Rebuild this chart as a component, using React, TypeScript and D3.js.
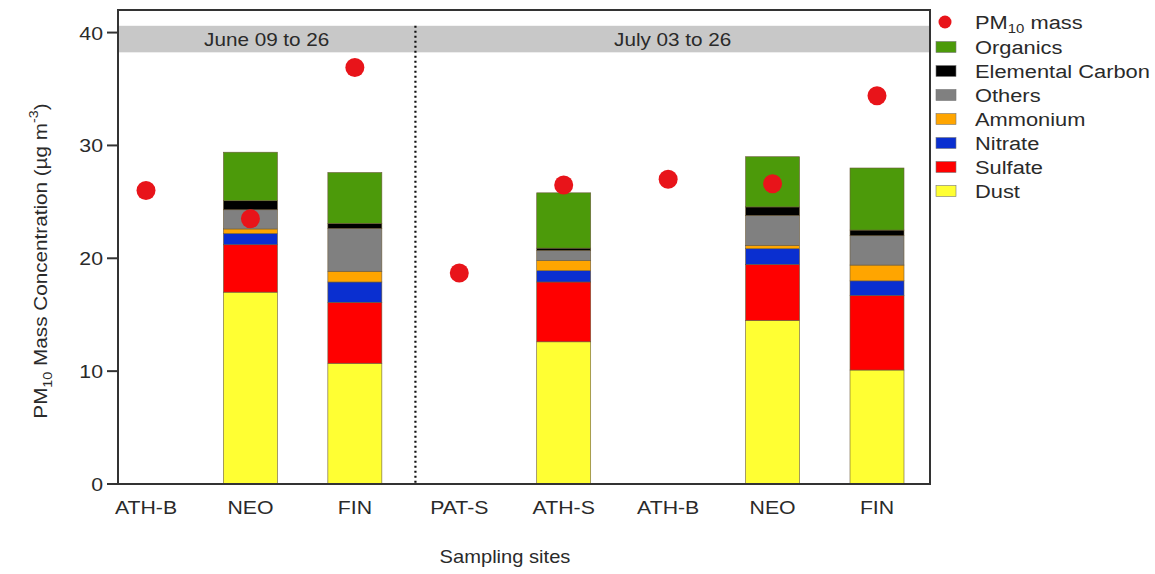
import React from "react";
import * as d3 from "d3";

// Sampling sites (two campaigns), PM10 mass and chemical composition (µg m-3)
const sites = ["ATH-B", "NEO", "FIN", "PAT-S", "ATH-S", "ATH-B", "NEO", "FIN"];
const pm10 = [26.0, 23.5, 36.9, 18.7, 26.5, 27.0, 26.6, 34.4];
const dust = [0, 17.0, 10.7, 0, 12.6, 0, 14.5, 10.1];
const sulfate = [0, 4.2, 5.4, 0, 5.3, 0, 4.95, 6.6];
const nitrate = [0, 1.0, 1.8, 0, 1.0, 0, 1.4, 1.3];
const ammonium = [0, 0.4, 0.95, 0, 0.9, 0, 0.3, 1.4];
const others = [0, 1.7, 3.8, 0, 0.9, 0, 2.65, 2.6];
const elementalCarbon = [0, 0.8, 0.45, 0, 0.2, 0, 0.75, 0.5];
const organics = [0, 4.3, 4.5, 0, 4.9, 0, 4.45, 5.5];

const componentNames = ["Dust", "Sulfate", "Nitrate", "Ammonium", "Others", "Elemental Carbon", "Organics"];
const componentValues = [dust, sulfate, nitrate, ammonium, others, elementalCarbon, organics];
const componentColors = ["#ffff33", "#ff0000", "#0a2fd0", "#ffa500", "#808080", "#000000", "#4c9a0a"];

const periods = ["June 09 to 26", "July 03 to 26"];
const periodSplit = 3; // first index of the second campaign
const yTicks = [0, 10, 20, 30, 40];

const W = 1155;
const H = 574;
const plot = { left: 118, right: 930, top: 10, bottom: 484 };
const font = "Liberation Sans, Arial, sans-serif";
const textColor = "#2a2a2a";
const SX = 1.15; // slightly widened lettering

type TxtProps = {
  x: number;
  y: number;
  size: number;
  anchor?: "start" | "middle" | "end";
  rotate?: number;
  children: React.ReactNode;
};

function Txt({ x, y, size, anchor = "start", rotate = 0, children }: TxtProps) {
  return (
    <text
      transform={`translate(${x},${y}) rotate(${rotate}) scale(${SX},1)`}
      fontSize={size}
      textAnchor={anchor}
      fill={textColor}
    >
      {children}
    </text>
  );
}

export default function App() {
  const idx = sites.map((_, i) => i);
  const x = d3.scalePoint<number>().domain(idx).range([146, 877]);
  const step = x.step();
  const y = d3.scaleLinear().domain([0, 42]).range([plot.bottom, plot.top]);
  const barW = 54;

  const rows = idx.map((i) => {
    const r: Record<string, number> = { i };
    componentNames.forEach((n, k) => (r[n] = componentValues[k][i]));
    return r;
  });
  const series = d3.stack<Record<string, number>>().keys(componentNames)(rows);

  const divider = (x(periodSplit - 1) as number) + step * 0.58;
  const bandTop = y(40.6);
  const bandBottom = y(38.25);

  const legendItems = ["Organics", "Elemental Carbon", "Others", "Ammonium", "Nitrate", "Sulfate", "Dust"];
  const legendX = 936;
  const legendY0 = 23;
  const legendDy = 24.0;

  return (
    <svg
      width={W}
      height={H}
      style={{ position: "absolute", left: 0, top: 0, background: "#fff" }}
      fontFamily={font}
    >
      {/* campaign header band */}
      <rect x={plot.left} y={bandTop} width={plot.right - plot.left} height={bandBottom - bandTop} fill="#c8c8c8" />
      <Txt x={(plot.left + divider) / 2} y={(bandTop + bandBottom) / 2 + 6.5} size={18} anchor="middle">
        {periods[0]}
      </Txt>
      <Txt x={(divider + plot.right) / 2} y={(bandTop + bandBottom) / 2 + 6.5} size={18} anchor="middle">
        {periods[1]}
      </Txt>

      {/* stacked composition bars */}
      {series.map((s, k) => (
        <g key={s.key} fill={componentColors[k]}>
          {s.map((d, i) =>
            d[1] - d[0] > 0 ? (
              <rect
                key={i}
                x={(x(i) as number) - barW / 2}
                y={y(d[1])}
                width={barW}
                height={y(d[0]) - y(d[1])}
                stroke="#6b5a3a"
                strokeWidth={0.6}
              />
            ) : null
          )}
        </g>
      ))}

      {/* divider between campaigns */}
      <line x1={divider} x2={divider} y1={bandTop} y2={plot.bottom} stroke="#111" strokeWidth={2.2} strokeDasharray="2,3" />

      {/* PM10 mass */}
      {pm10.map((v, i) => (
        <circle key={i} cx={x(i) as number} cy={y(v)} r={9.5} fill="#e8141a" />
      ))}

      {/* frame */}
      <rect
        x={plot.left}
        y={plot.top}
        width={plot.right - plot.left}
        height={plot.bottom - plot.top}
        fill="none"
        stroke="#333"
        strokeWidth={2}
      />

      {/* y axis */}
      {yTicks.map((t) => (
        <g key={t}>
          <line x1={plot.left - 11} x2={plot.left} y1={y(t)} y2={y(t)} stroke="#333" strokeWidth={2} />
          <Txt x={plot.left - 15} y={y(t) + 7} size={18.5} anchor="end">
            {t}
          </Txt>
        </g>
      ))}
      <Txt x={47} y={(plot.top + plot.bottom) / 2 + 14} size={18} anchor="middle" rotate={-90}>
        PM
        <tspan fontSize={12.5} dy={5}>10</tspan>
        <tspan dy={-5}> Mass Concentration (µg m</tspan>
        <tspan fontSize={12.5} dy={-9}>-3</tspan>
        <tspan dy={9}>)</tspan>
      </Txt>

      {/* x axis labels */}
      {sites.map((s, i) => (
        <Txt key={i} x={x(i) as number} y={514} size={18.5} anchor="middle">
          {s}
        </Txt>
      ))}
      <Txt x={505} y={563} size={17.5} anchor="middle">
        Sampling sites
      </Txt>

      {/* legend */}
      <circle cx={legendX + 9} cy={legendY0 - 1} r={6.5} fill="#e8141a" />
      <Txt x={legendX + 39} y={legendY0 + 6} size={19}>
        PM<tspan fontSize={13} dy={4}>10</tspan>
        <tspan dy={-4}> mass</tspan>
      </Txt>
      {legendItems.map((name, j) => {
        const k = componentNames.indexOf(name);
        const cy = legendY0 + (j + 1) * legendDy;
        return (
          <g key={name}>
            <rect x={legendX} y={cy - 5.5} width={20} height={11} fill={componentColors[k]} stroke="#777" strokeWidth={0.6} />
            <Txt x={legendX + 39} y={cy + 6.5} size={19}>
              {name}
            </Txt>
          </g>
        );
      })}
    </svg>
  );
}
